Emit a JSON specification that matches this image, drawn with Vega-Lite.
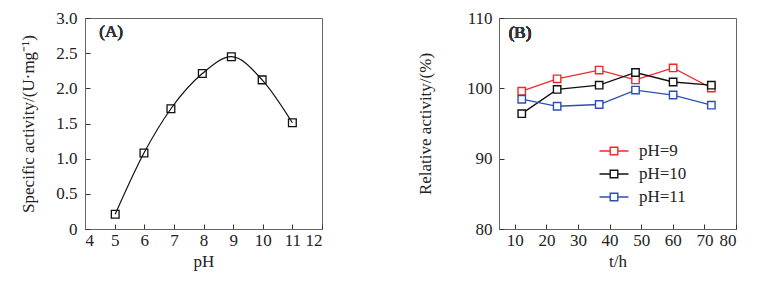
{
  "$schema": "https://vega.github.io/schema/vega-lite/v6.json",
  "padding": {"left": 19, "top": 8, "right": 5, "bottom": 5},
  "background": "white",
  "config": {
    "font": "Liberation Serif",
    "view": {"stroke": "#666", "strokeWidth": 1, "fill": null},
    "axis": {
      "labelFont": "Liberation Serif", "titleFont": "Liberation Serif",
      "labelFontSize": 17, "titleFontSize": 17, "titleFontWeight": "normal",
      "labelColor": "#222", "titleColor": "#222", "labelOverlap": false, "zindex": 2,
      "grid": false, "ticks": true, "tickSize": -5, "tickColor": "#333", "tickWidth": 1, "tickOpacity": 1, "domainColor": "#666"
    },
    "axisX": {"labelPadding": 8, "titlePadding": 5},
    "legend": {"labelFont": "Liberation Serif", "labelFontSize": 17, "labelColor": "#222"}
  },
  "datasets": {
    "ph": [
      {"pH": 5.02, "activity": 0.21},
      {"pH": 5.99, "activity": 1.08},
      {"pH": 6.9, "activity": 1.71},
      {"pH": 7.96, "activity": 2.21},
      {"pH": 8.94, "activity": 2.45},
      {"pH": 9.98, "activity": 2.12},
      {"pH": 11.0, "activity": 1.51}
    ],
    "stab": [
      {"t": 12.2, "series": "pH=9", "rel": 99.6},
      {"t": 23.4, "series": "pH=9", "rel": 101.35},
      {"t": 36.7, "series": "pH=9", "rel": 102.6},
      {"t": 48.2, "series": "pH=9", "rel": 101.2},
      {"t": 60.1, "series": "pH=9", "rel": 102.9},
      {"t": 72.2, "series": "pH=9", "rel": 100.05},
      {"t": 12.2, "series": "pH=10", "rel": 96.4},
      {"t": 23.4, "series": "pH=10", "rel": 99.85},
      {"t": 36.7, "series": "pH=10", "rel": 100.45},
      {"t": 48.2, "series": "pH=10", "rel": 102.25},
      {"t": 60.1, "series": "pH=10", "rel": 100.9},
      {"t": 72.2, "series": "pH=10", "rel": 100.45},
      {"t": 12.2, "series": "pH=11", "rel": 98.45},
      {"t": 23.4, "series": "pH=11", "rel": 97.45},
      {"t": 36.7, "series": "pH=11", "rel": 97.7},
      {"t": 48.2, "series": "pH=11", "rel": 99.75},
      {"t": 60.1, "series": "pH=11", "rel": 99.05},
      {"t": 72.2, "series": "pH=11", "rel": 97.6}
    ]
  },
  "hconcat": [
    {
      "width": 237, "height": 211,
      "data": {"name": "ph"},
      "layer": [
        {
          "mark": {"type": "line", "interpolate": "monotone", "color": "#111", "strokeWidth": 1.2},
          "encoding": {
            "x": {"field": "pH", "type": "quantitative", "scale": {"domain": [4, 12], "nice": false},
                  "axis": {"values": [4,5,6,7,8,9,10,11,12], "tickCount": 9, "title": "pH", "labelOverlap": false, "ticks": true, "tickSize": -5}},
            "y": {"field": "activity", "type": "quantitative", "scale": {"domain": [0, 3], "nice": false},
                  "axis": {"values": [0,0.5,1,1.5,2,2.5,3], "tickCount": 7, "labelExpr": "datum.value == 0 ? '0' : format(datum.value, '.1f')",
                           "title": "Specific activity/(U·mg⁻¹)", "labelPadding": 13, "titlePadding": 18, "labelOverlap": false, "ticks": true, "tickSize": -5}}
          }
        },
        {
          "mark": {"type": "point", "shape": "square", "filled": false, "color": "#111", "size": 60, "strokeWidth": 1.3, "opacity": 1},
          "encoding": {
            "x": {"field": "pH", "type": "quantitative"},
            "y": {"field": "activity", "type": "quantitative"}
          }
        },
        {
          "mark": {"type": "text", "text": "(A)", "fontSize": 17, "fontWeight": "normal", "font": "Liberation Serif", "color": "#333", "align": "center", "baseline": "middle"},
          "encoding": {"x": {"datum": 4.88}, "y": {"datum": 2.8}}
        }
      ]
    },
    {
      "width": 237, "height": 211,
      "data": {"name": "stab"},
      "layer": [
        {
          "mark": {"type": "line", "strokeWidth": 1.3},
          "encoding": {
            "x": {"field": "t", "type": "quantitative", "scale": {"domain": [5, 80], "nice": false},
                  "axis": {"values": [10,20,30,40,50,60,70,80], "tickCount": 8, "title": "t/h", "labelOverlap": false, "ticks": true, "tickSize": -5}},
            "y": {"field": "rel", "type": "quantitative", "scale": {"domain": [80, 110], "nice": false},
                  "axis": {"values": [80,90,100,110], "tickCount": 4, "title": "Relative activity/(%)", "labelPadding": 12, "titlePadding": 32, "labelOverlap": false, "ticks": true, "tickSize": -5}},
            "color": {"field": "series", "type": "nominal",
                      "scale": {"domain": ["pH=9","pH=10","pH=11"], "range": ["#f02828","#111111","#2a50b4"]},
                      "legend": {"title": null, "orient": "none", "legendX": 518, "legendY": 122,
                                 "padding": 0, "symbolType": "M-1.45,0L-0.38,0M0.38,0L1.45,0M-0.38,-0.38L0.38,-0.38L0.38,0.38L-0.38,0.38Z",
                                 "symbolSize": 400, "symbolStrokeWidth": 1.4, "symbolFillColor": "white",
                                 "labelOffset": 14, "rowPadding": 4}}
          }
        },
        {
          "mark": {"type": "point", "shape": "square", "filled": true, "fill": "white", "size": 55, "strokeWidth": 1.4, "opacity": 1},
          "encoding": {
            "x": {"field": "t", "type": "quantitative"},
            "y": {"field": "rel", "type": "quantitative"},
            "stroke": {"field": "series", "type": "nominal",
                       "scale": {"domain": ["pH=9","pH=10","pH=11"], "range": ["#f02828","#111111","#2a50b4"]},
                       "legend": null}
          }
        },
        {
          "mark": {"type": "text", "text": "(B)", "fontSize": 17, "fontWeight": "normal", "font": "Liberation Serif", "color": "#333", "align": "center", "baseline": "middle"},
          "encoding": {"x": {"datum": 11.65}, "y": {"datum": 107.8}}
        }
      ]
    }
  ],
  "spacing": 93
}
